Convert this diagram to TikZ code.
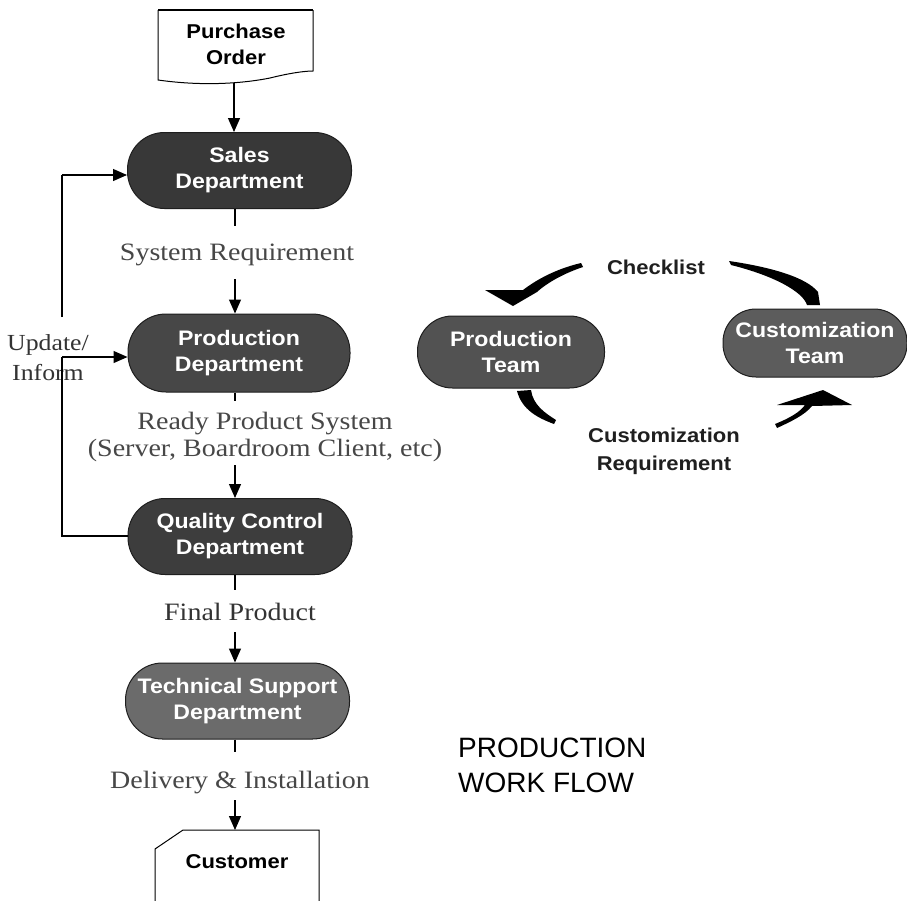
\documentclass[tikz,border=0pt]{standalone}
\usepackage{fontspec}
\usetikzlibrary{arrows.meta,backgrounds}
\newfontfamily\boxfont[FakeStretch=1.1]{Liberation Sans}
\newfontfamily\notefont[FakeStretch=1.12]{Liberation Serif}
\newfontfamily\titlefont{Liberation Sans}
\definecolor{inkdark}{HTML}{1E1E1E}
\begin{document}
\begin{tikzpicture}[x=1pt,y=-1pt,
  dept/.style={draw=inkdark, line width=1pt, text=white,
    font=\boxfont\bfseries\fontsize{21}{26}\selectfont, align=center,
    minimum width=224pt, minimum height=76pt, rounded corners=37pt, inner sep=0pt},
  team/.style={dept, minimum width=187pt, minimum height=72pt, rounded corners=35pt},
  flow/.style={line width=1.2pt, -{Triangle[length=14pt,width=12pt]}},
  link/.style={line width=1.2pt},
  note/.style={font=\notefont\fontsize{25}{27}\selectfont, text=black!72, align=center, inner sep=0pt},
  darknote/.style={font=\boxfont\bfseries\fontsize{20}{28}\selectfont, text=black!88, align=center, inner sep=0pt},
  doctext/.style={font=\boxfont\bfseries\fontsize{20}{26}\selectfont, text=black, align=center, inner sep=0pt},
  bigarrow/.style={fill=black, draw=none}
]
\useasboundingbox (0,0) rectangle (907,900);
\fill[white] (0,0) rectangle (907,900);

% ---- main column of departments ----
\node[dept, fill=black!78] (sales) at (239.5,170.5) {Sales\\Department};
\node[dept, fill=black!72, minimum width=222pt, minimum height=78pt, rounded corners=38pt] (prod) at (239,353) {Production\\Department};
\node[dept, fill=black!76] (qc) at (240,536.5) {Quality Control\\Department};
\node[dept, fill=black!58] (tech) at (237.5,701) {Technical Support\\Department};

% ---- teams on the right ----
\node[team, fill=black!68] (pteam) at (511,352) {Production\\Team};
\node[team, fill=black!64, minimum width=184pt, minimum height=68pt, rounded corners=33pt] (cteam) at (815,343) {Customization\\Team};

% double bar between production department and production team
\begin{scope}[on background layer]
  \draw[line width=2pt, double=white, double distance=16pt] ([yshift=5pt]prod.east) -- ([yshift=5pt]pteam.west);
\end{scope}

% ---- purchase order (document shape) ----
\node[doctext] (po) at (236,44) {Purchase\\Order};
\draw[line width=2pt] (158,10) -- (313,10);
\draw[line width=1pt] (158,10) -- (158,80) .. controls (200,86) and (240,84) .. (270,78) .. controls (290,73) and (305,71) .. (313,71) -- (313,10);
\coordinate (pobot) at (234,83);
\draw[flow] (pobot) -- (sales.north -| pobot);

% ---- customer (card shape) ----
\node[doctext] (cust) at (237,862) {Customer};
\draw[line width=1pt] (155,902) -- (155,849) -- (183,830) -- (319,830) -- (319,902);
\coordinate (custtop) at (235,830);

% ---- labels on the main flow ----
\node[note] (sysreq) at (237,255) {System Requirement};
\node[note] (ready) at (265,436.5) {Ready Product System\\(Server, Boardroom Client, etc)};
\node[note, text=black!80] (final) at (240,612) {Final Product};
\node[note] (deliv) at (240,783) {Delivery \& Installation};

% ---- main flow connectors ----
\coordinate (a1) at (235,226);
\coordinate (a2) at (235,279);
\draw[link] (sales.south -| a1) -- (a1);
\draw[flow] (a2) -- (prod.north -| a2);
\coordinate (b1) at (235,401);
\coordinate (b2) at (235,465);
\draw[link] (prod.south -| b1) -- (b1);
\draw[flow] (b2) -- (qc.north -| b2);
\coordinate (c1) at (235,590);
\coordinate (c2) at (235,632);
\draw[link] (qc.south -| c1) -- (c1);
\draw[flow] (c2) -- (tech.north -| c2);
\coordinate (d1) at (235,752);
\coordinate (d2) at (235,800);
\draw[link] (tech.south -| d1) -- (d1);
\draw[flow] (d2) -- (custtop);

% ---- update / inform feedback loop ----
\node[note, font=\notefont\fontsize{23}{30}\selectfont, text=black!80] (upd) at (48,358) {Update/\\Inform};
\coordinate (fbtop) at (62,175);
\coordinate (fbgap) at (62,317);
\coordinate (fbmid) at (62,357);
\coordinate (fbbot) at (62,536);
\draw[link] (qc.west |- fbbot) -- (fbbot) -- (fbmid);
\draw[flow] (fbmid) -- (prod.west |- fbmid);
\draw[link] (fbgap) -- (fbtop);
\draw[flow] (fbtop) -- (sales.west |- fbtop);

% ---- customization cycle ----
\node[darknote] (check) at (656,267) {Checklist};
\node[darknote] (custreq) at (664,451) {Customization\\Requirement};

% checklist to production team
\fill[bigarrow] (485,290) -- (523,290) .. controls (540,277) and (560,268) .. (581,263)
  -- (583,267) .. controls (565,273) and (548,282) .. (537,292) -- (513,306) -- cycle;
% checklist to customization team
\fill[bigarrow] (729,261) .. controls (770,267) and (806,277) .. (818,292) -- (820,305)
  -- (807,305) .. controls (803,292) and (775,276) .. (731,265) -- cycle;
% production team to customization requirement
\fill[bigarrow] (517,391) -- (531,390) .. controls (533,405) and (545,413) .. (556,420)
  -- (554,424) .. controls (538,418) and (522,410) .. (517,391) -- cycle;
% customization requirement to customization team
\fill[bigarrow] (775,424) .. controls (790,418) and (800,412) .. (805,405) -- (777,405)
  -- (823,390) -- (852,405) -- (812,406) .. controls (805,415) and (790,422) .. (777,428) -- cycle;

% ---- title ----
\node[font=\titlefont\fontsize{28}{35}\selectfont, align=left, anchor=west, inner sep=0pt] (title) at (458,765) {PRODUCTION\\WORK FLOW};
\end{tikzpicture}
\end{document}
